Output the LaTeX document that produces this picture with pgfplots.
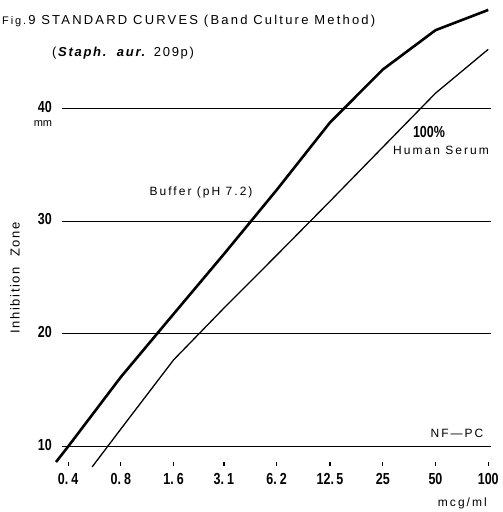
\documentclass[border=0pt]{standalone}
\usepackage{fontspec}
\setmainfont{Liberation Sans}
\usepackage{graphicx}
\usepackage{pgfplots}
\pgfplotsset{compat=1.18}
\newcommand{\tl}[1]{\scalebox{0.78}[1]{\fontsize{16}{16}\selectfont\bfseries #1}}
\newcommand{\ann}{\fontsize{12}{14}\selectfont\addfontfeatures{LetterSpace=17}}
\begin{document}
\begin{tikzpicture}
\useasboundingbox (-62pt,-46pt) rectangle (441pt,466pt);
\begin{axis}[
  at={(0pt,0pt)}, anchor=south west,
  scale only axis, width=429pt, height=461pt,
  xmode=log, xmin=0.369, xmax=103.7, ymin=8.267, ymax=49.24,
  clip=false,
  axis x line=bottom, axis y line=left,
  axis line style={draw=none,-},
  xtick={0.4,0.8,1.6,3.1,6.2,12.5,25,50,100},
  xticklabels={{\tl{0.\hspace{4pt}4}},{\tl{0.\hspace{4pt}8}},{\tl{1.\hspace{4pt}6}},{\tl{3.\hspace{4pt}1}},{\tl{6.\hspace{4pt}2}},{\tl{12.\hspace{3pt}5}},{\tl{25}},{\tl{50}},{\tl{100}}},
  xminorticks=false,
  x tick style={black, line width=1.2pt},
  major tick length=4pt, tick align=inside,
  xticklabel style={inner sep=0pt, yshift=-7pt},
  ytick={10,20,30,40},
  yticklabels={{\tl{10}},{\tl{20}},{\tl{30}},{\tl{40}}},
  y tick style={draw=none},
  yticklabel style={inner sep=0pt, xshift=-10pt, yshift=2pt},
  ymajorgrids, grid style={black, line width=1pt},
]
\addplot[black, line width=2.6pt, line join=round] coordinates {
 (0.341,8.62) (0.4,10.0) (0.8,16.18) (1.6,21.78) (3.1,27.1) (6.2,32.8)
 (12.5,38.8) (25,43.5) (50,47.0) (100,48.8)};
\addplot[black, line width=1.3pt, line join=round] coordinates {
 (0.548,8.18) (0.8,11.56) (1.6,17.7) (3.1,22.3) (6.2,27.0)
 (12.5,31.8) (25,36.6) (50,41.4) (100,45.3)};
\end{axis}
\node[anchor=west, inner sep=0pt] at (-60pt,445pt) {\fontsize{13}{15}\selectfont\addfontfeatures{LetterSpace=17}{\fontsize{11}{13}\selectfont Fig.}\,9 STANDARD CURVES (Band Culture Method)};
\node[anchor=west, inner sep=0pt] at (-10pt,413pt) {\fontsize{13}{15}\selectfont\addfontfeatures{LetterSpace=13}(\textbf{\textit{Staph.\ \ aur.}} 209p)};
\node[inner sep=0pt] at (-19pt,342pt) {\fontsize{11}{13}\selectfont mm};
\node[inner sep=0pt, rotate=90] at (-47pt,188pt) {\fontsize{13}{15}\selectfont\addfontfeatures{LetterSpace=12}Inhibition\ \ Zone};
\node[inner sep=0pt] at (139pt,274pt) {\ann Buffer (pH 7.2)};
\node[inner sep=0pt] at (367pt,334pt) {\tl{100\%}};
\node[inner sep=0pt] at (379pt,316pt) {\ann Human Serum};
\node[inner sep=0pt] at (395pt,33pt) {\ann NF\,---PC};
\node[anchor=east, inner sep=0pt] at (425pt,-37pt) {\ann mcg/ml};
\end{tikzpicture}
\end{document}
